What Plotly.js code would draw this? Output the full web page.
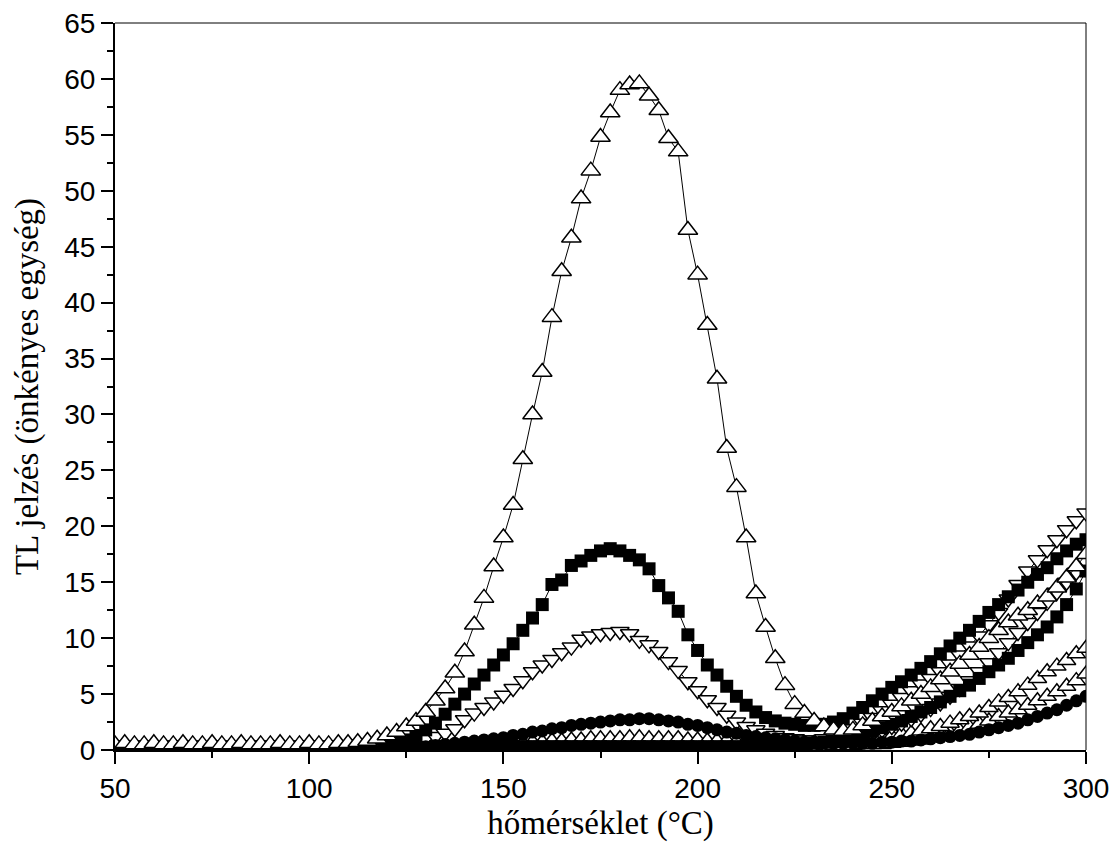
<!DOCTYPE html>
<html>
<head>
<meta charset="utf-8">
<script src="https://cdn.plot.ly/plotly-3.0.1.min.js"></script>
<style>html,body{margin:0;padding:0;background:#fff;}#chart{width:1116px;height:856px;}</style>
</head>
<body>
<div id="chart"></div>
<script>
// temperature (°C)
const temperature = [
  50, 52.5, 55, 57.5, 60, 62.5, 65, 67.5, 70, 72.5,
  75, 77.5, 80, 82.5, 85, 87.5, 90, 92.5, 95, 97.5,
  100, 102.5, 105, 107.5, 110, 112.5, 115, 117.5, 120, 122.5,
  125, 127.5, 130, 132.5, 135, 137.5, 140, 142.5, 145, 147.5,
  150, 152.5, 155, 157.5, 160, 162.5, 165, 167.5, 170, 172.5,
  175, 177.5, 180, 182.5, 185, 187.5, 190, 192.5, 195, 197.5,
  200, 202.5, 205, 207.5, 210, 212.5, 215, 217.5, 220, 222.5,
  225, 227.5, 230, 232.5, 235, 237.5, 240, 242.5, 245, 247.5,
  250, 252.5, 255, 257.5, 260, 262.5, 265, 267.5, 270, 272.5,
  275, 277.5, 280, 282.5, 285, 287.5, 290, 292.5, 295, 297.5,
  300
];

// open up-triangles, large peak
const seriesOpenUpLarge = [
  0.5, 0.6, 0.5, 0.5, 0.6, 0.5, 0.5, 0.6, 0.5, 0.5,
  0.6, 0.5, 0.5, 0.6, 0.5, 0.5, 0.5, 0.6, 0.5, 0.5,
  0.6, 0.5, 0.5, 0.6, 0.6, 0.7, 0.8, 1.0, 1.3, 1.6,
  2.1, 2.6, 3.4, 4.4, 5.5, 6.9, 8.8, 11.2, 13.6, 16.4,
  19.0, 21.9, 26.0, 30.0, 33.8, 38.7, 42.8, 45.8, 49.3, 51.8,
  54.8, 57.0, 59.0, 59.5, 59.6, 58.5, 57.2, 54.7, 53.5, 46.5,
  42.5, 38.0, 33.2, 27.0, 23.5, 19.0, 14.0, 11.0, 8.2, 5.8,
  4.1, 3.3, 2.6, 2.1, 1.8, 1.7, 1.8, 2.2, 2.6, 3.0,
  3.4, 3.9, 4.4, 5.0, 5.6, 6.3, 7.0, 7.7, 8.5, 9.2,
  10.0, 10.7, 11.4, 12.0, 12.5, 13.1, 13.7, 14.5, 15.4, 16.4,
  17.5
];

// filled squares, medium peak
const seriesFilledSquare = [
  0.2, 0.3, 0.2, 0.3, 0.2, 0.2, 0.3, 0.2, 0.3, 0.2,
  0.2, 0.3, 0.2, 0.2, 0.3, 0.2, 0.3, 0.2, 0.2, 0.3,
  0.3, 0.2, 0.3, 0.3, 0.3, 0.4, 0.4, 0.5, 0.6, 0.7,
  0.9, 1.3, 1.8, 2.4, 3.2, 4.1, 5.0, 5.9, 6.7, 7.6,
  8.5, 9.5, 10.7, 11.8, 13.0, 14.8, 15.2, 16.5, 16.9, 17.4,
  17.8, 18.0, 17.8, 17.4, 17.0, 16.2, 14.7, 13.6, 12.4, 10.3,
  8.9, 7.6, 6.7, 5.7, 4.8, 4.0, 3.4, 2.9, 2.6, 2.4,
  2.3, 2.2, 2.2, 2.3, 2.5, 2.8, 3.3, 3.8, 4.4, 5.0,
  5.6, 6.1, 6.7, 7.3, 7.9, 8.6, 9.3, 10.0, 10.7, 11.5,
  12.3, 13.0, 13.7, 14.3, 15.0, 15.7, 16.3, 17.1, 17.8, 18.4,
  18.8
];

// open down-triangles, small peak
const seriesOpenDown = [
  0.2, 0.2, 0.3, 0.2, 0.2, 0.2, 0.3, 0.2, 0.2, 0.2,
  0.3, 0.2, 0.2, 0.2, 0.3, 0.2, 0.2, 0.3, 0.2, 0.2,
  0.2, 0.3, 0.2, 0.3, 0.3, 0.3, 0.4, 0.4, 0.5, 0.6,
  0.6, 0.8, 1.0, 1.2, 1.5, 1.9, 2.7, 3.3, 3.8, 4.3,
  4.9, 5.5, 6.2, 7.0, 7.6, 8.1, 8.7, 9.2, 9.9, 10.2,
  10.4, 10.5, 10.6, 10.4, 9.8, 9.4, 8.8, 7.9, 7.1, 6.1,
  5.3, 4.5, 3.8, 3.1, 2.5, 2.1, 1.8, 1.5, 1.3, 1.1,
  1.0, 0.9, 0.9, 1.0, 1.2, 1.5, 1.9, 2.4, 2.9, 3.5,
  4.1, 4.7, 5.3, 5.9, 6.4, 7.0, 7.7, 8.5, 9.3, 10.2,
  11.2, 12.3, 13.5, 14.8, 16.0, 17.0, 17.9, 18.8, 19.7, 20.5,
  21.2
];

// open down-triangles, second set (flat, then rising)
const seriesOpenDown2 = [
  0.1, 0.2, 0.1, 0.1, 0.2, 0.1, 0.1, 0.2, 0.1, 0.1,
  0.2, 0.1, 0.1, 0.2, 0.1, 0.1, 0.2, 0.1, 0.1, 0.2,
  0.1, 0.1, 0.2, 0.1, 0.2, 0.2, 0.2, 0.2, 0.2, 0.3,
  0.3, 0.3, 0.3, 0.3, 0.3, 0.3, 0.3, 0.4, 0.4, 0.4,
  0.4, 0.4, 0.4, 0.4, 0.4, 0.4, 0.4, 0.4, 0.4, 0.4,
  0.4, 0.4, 0.4, 0.4, 0.4, 0.4, 0.4, 0.4, 0.4, 0.4,
  0.4, 0.4, 0.4, 0.4, 0.4, 0.4, 0.4, 0.4, 0.4, 0.4,
  0.4, 0.5, 0.5, 0.6, 0.7, 0.8, 1.0, 1.2, 1.5, 1.8,
  2.1, 2.4, 2.8, 3.2, 3.7, 4.2, 4.8, 5.5, 6.2, 7.0,
  7.8, 8.7, 9.6, 10.5, 11.4, 12.3, 13.2, 14.1, 15.0, 15.9,
  16.8
];

// filled squares, second set (flat, then rising)
const seriesFilledSquare2 = [
  0.1, 0.2, 0.1, 0.2, 0.1, 0.2, 0.1, 0.2, 0.1, 0.2,
  0.1, 0.2, 0.1, 0.2, 0.1, 0.2, 0.1, 0.2, 0.1, 0.2,
  0.1, 0.2, 0.2, 0.2, 0.2, 0.2, 0.2, 0.2, 0.2, 0.2,
  0.2, 0.2, 0.2, 0.3, 0.3, 0.3, 0.3, 0.3, 0.3, 0.3,
  0.3, 0.3, 0.3, 0.3, 0.3, 0.3, 0.3, 0.3, 0.3, 0.3,
  0.3, 0.3, 0.3, 0.3, 0.3, 0.3, 0.3, 0.3, 0.3, 0.3,
  0.3, 0.3, 0.3, 0.3, 0.3, 0.3, 0.3, 0.3, 0.3, 0.4,
  0.4, 0.5, 0.6, 0.7, 0.8, 1.0, 1.2, 1.4, 1.7, 2.0,
  2.3, 2.6, 3.0, 3.4, 3.8, 4.3, 4.8, 5.3, 5.8, 6.4,
  7.0, 7.6, 8.2, 8.9, 9.6, 10.3, 11.0, 11.9, 13.0, 14.4,
  16.0
];

// filled circles, low peak
const seriesFilledCircle = [
  0.1, 0.2, 0.1, 0.1, 0.2, 0.1, 0.1, 0.2, 0.1, 0.1,
  0.2, 0.1, 0.1, 0.2, 0.1, 0.1, 0.2, 0.1, 0.1, 0.2,
  0.1, 0.1, 0.2, 0.1, 0.2, 0.2, 0.2, 0.2, 0.2, 0.2,
  0.2, 0.25, 0.3, 0.4, 0.5, 0.6, 0.7, 0.8, 0.9, 1.0,
  1.1, 1.3, 1.4, 1.6, 1.7, 1.9, 2.0, 2.2, 2.3, 2.4,
  2.5, 2.6, 2.7, 2.7, 2.8, 2.8, 2.7, 2.6, 2.5, 2.3,
  2.2, 2.0, 1.8, 1.6, 1.5, 1.3, 1.2, 1.1, 1.0, 0.9,
  0.8, 0.7, 0.7, 0.6, 0.6, 0.6, 0.6, 0.6, 0.6, 0.7,
  0.7, 0.8, 0.8, 0.9, 1.0, 1.1, 1.2, 1.3, 1.4, 1.6,
  1.8, 2.0, 2.2, 2.4, 2.7, 3.0, 3.3, 3.6, 4.0, 4.4,
  4.8
];

// open up-triangles, very low peak
const seriesOpenUpSmall = [
  0.1, 0.2, 0.1, 0.1, 0.2, 0.1, 0.1, 0.2, 0.1, 0.1,
  0.2, 0.1, 0.1, 0.2, 0.1, 0.1, 0.2, 0.1, 0.1, 0.2,
  0.1, 0.1, 0.2, 0.1, 0.2, 0.2, 0.2, 0.2, 0.2, 0.2,
  0.3, 0.3, 0.3, 0.3, 0.4, 0.4, 0.4, 0.4, 0.5, 0.5,
  0.5, 0.6, 0.6, 0.7, 0.7, 0.8, 0.8, 0.9, 0.9, 1.0,
  1.0, 1.0, 1.0, 1.1, 1.1, 1.0, 1.0, 1.0, 1.0, 0.9,
  0.9, 0.8, 0.8, 0.8, 0.7, 0.7, 0.7, 0.6, 0.6, 0.6,
  0.6, 0.6, 0.6, 0.6, 0.6, 0.7, 0.8, 0.9, 1.0, 1.1,
  1.2, 1.4, 1.5, 1.7, 1.9, 2.1, 2.4, 2.7, 3.0, 3.3,
  3.8, 4.3, 4.7, 5.2, 5.8, 6.4, 7.0, 7.5, 8.0, 8.6,
  9.1
];

// open up-triangles, flat then rising
const seriesOpenUpFlat = [
  0.1, 0.1, 0.2, 0.1, 0.1, 0.2, 0.1, 0.1, 0.2, 0.1,
  0.1, 0.2, 0.1, 0.1, 0.2, 0.1, 0.1, 0.2, 0.1, 0.1,
  0.2, 0.1, 0.1, 0.2, 0.1, 0.2, 0.2, 0.2, 0.2, 0.2,
  0.2, 0.2, 0.3, 0.3, 0.3, 0.3, 0.3, 0.3, 0.3, 0.4,
  0.4, 0.4, 0.4, 0.4, 0.4, 0.4, 0.4, 0.5, 0.5, 0.5,
  0.5, 0.5, 0.5, 0.5, 0.5, 0.5, 0.5, 0.5, 0.5, 0.5,
  0.5, 0.4, 0.4, 0.4, 0.4, 0.4, 0.4, 0.4, 0.4, 0.4,
  0.4, 0.4, 0.4, 0.4, 0.4, 0.4, 0.4, 0.5, 0.5, 0.5,
  0.6, 0.7, 0.8, 0.9, 1.1, 1.3, 1.5, 1.7, 2.0, 2.3,
  2.6, 3.0, 3.3, 3.6, 4.0, 4.4, 4.8, 5.2, 5.7, 6.2,
  6.8
];

const xTicks = [50, 100, 150, 200, 250, 300];
const xTickLabels = ['50', '100', '150', '200', '250', '300'];
const yTicks = [0, 5, 10, 15, 20, 25, 30, 35, 40, 45, 50, 55, 60, 65];
const yTickLabels = ['0', '5', '10', '15', '20', '25', '30', '35', '40', '45', '50', '55', '60', '65'];

function openTrace(y, symbol, size, lw) {
  return {
    x: temperature, y: y, type: 'scatter', mode: 'lines+markers',
    line: {color: '#000', width: lw},
    marker: {symbol: symbol, size: size, color: '#fff', line: {color: '#000', width: 1.5}},
    hoverinfo: 'x+y', showlegend: false
  };
}
function filledTrace(y, symbol, size) {
  return {
    x: temperature, y: y, type: 'scatter', mode: 'lines+markers',
    line: {color: '#000', width: 1},
    marker: {symbol: symbol, size: size, color: '#000', line: {color: '#000', width: 0}},
    hoverinfo: 'x+y', showlegend: false
  };
}

const data = [
  openTrace(seriesOpenUpFlat, 'triangle-up', 16, 1),
  openTrace(seriesOpenUpSmall, 'triangle-up', 16, 1),
  openTrace(seriesOpenDown2, 'triangle-down', 16, 1),
  openTrace(seriesOpenDown, 'triangle-down', 16, 1),
  filledTrace(seriesFilledSquare2, 'square', 13),
  filledTrace(seriesFilledCircle, 'circle', 13),
  filledTrace(seriesFilledSquare, 'square', 13),
  openTrace(seriesOpenUpLarge, 'triangle-up', 17, 1)
];

const tickFont = {family: 'Liberation Sans, Arial, sans-serif', size: 28, color: '#000'};
const titleFont = {family: 'Liberation Serif, Times New Roman, serif', size: 33, color: '#000'};

const layout = {
  width: 1116, height: 856,
  margin: {l: 115, r: 30, t: 23, b: 106},
  paper_bgcolor: '#fff', plot_bgcolor: '#fff',
  showlegend: false,
  xaxis: {
    range: [50, 300], tickmode: 'array', tickvals: xTicks, ticktext: xTickLabels,
    ticks: 'outside', ticklen: 12, tickwidth: 2, tickcolor: '#000',
    minor: {dtick: 25, tick0: 50, ticks: 'outside', ticklen: 6, tickwidth: 2, tickcolor: '#000', showgrid: false},
    showline: true, linewidth: 2, linecolor: '#000', mirror: false,
    showgrid: false, zeroline: false, tickfont: tickFont,
    title: {text: 'hőmérséklet (°C)', font: titleFont, standoff: 8}
  },
  yaxis: {
    range: [0, 65], tickmode: 'array', tickvals: yTicks, ticktext: yTickLabels,
    ticks: 'outside', ticklen: 12, tickwidth: 2, tickcolor: '#000',
    minor: {dtick: 2.5, tick0: 0, ticks: 'outside', ticklen: 6, tickwidth: 2, tickcolor: '#000', showgrid: false},
    showline: true, linewidth: 2, linecolor: '#000', mirror: false,
    showgrid: false, zeroline: false, tickfont: tickFont,
    title: {text: 'TL jelzés (önkényes egység)', font: titleFont, standoff: 16}
  },
  shapes: [
    {type: 'line', xref: 'paper', yref: 'paper', x0: 0, x1: 1, y0: 1, y1: 1, line: {color: '#000', width: 1}},
    {type: 'line', xref: 'paper', yref: 'paper', x0: 1, x1: 1, y0: 0, y1: 1, line: {color: '#000', width: 1}}
  ]
};

Plotly.newPlot('chart', data, layout, {staticPlot: true, displayModeBar: false});
</script>
</body>
</html>
